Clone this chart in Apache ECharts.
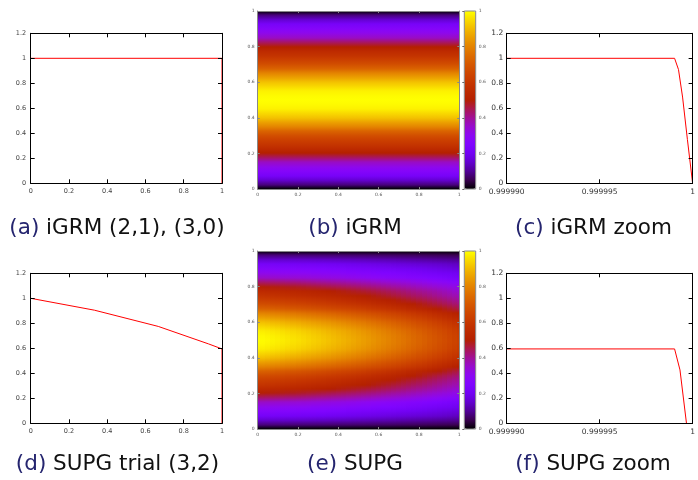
<!DOCTYPE html>
<html>
<head>
<meta charset="utf-8">
<script src="https://cdn.jsdelivr.net/npm/echarts@6/dist/echarts.min.js"></script>
<style>
html, body { margin: 0; padding: 0; background: #fff; }
#main { width: 698px; height: 480px; }
</style>
</head>
<body>
<div id="main"></div>
<script>
// ---- data ----
var igrmX = [0, 1, 1];
var igrmY = [1, 1, 0];

var supgX = [0, 0.333, 0.667, 0.93, 1, 1];
var supgY = [1, 0.905, 0.775, 0.635, 0.595, 0];

var igrmZoomX = [0.99999, 0.99999903, 0.99999924, 0.99999946, 0.99999972, 1];
var igrmZoomY = [1, 1, 0.91, 0.69, 0.35, 0];

var supgZoomX = [0.99999, 0.99999903, 0.99999932, 0.99999967];
var supgZoomY = [0.595, 0.595, 0.427, 0];

var zoomTickLabels = ['0.999990', '0.999995', '1'];

// sample positions of the 2D fields (both x and y)
var fieldPos = [0, 0.025, 0.05, 0.075, 0.1, 0.125, 0.15, 0.175, 0.2, 0.225, 0.25,
    0.275, 0.3, 0.325, 0.35, 0.375, 0.4, 0.425, 0.45, 0.475, 0.5, 0.525, 0.55,
    0.575, 0.6, 0.625, 0.65, 0.675, 0.7, 0.725, 0.75, 0.775, 0.8, 0.825, 0.85,
    0.875, 0.9, 0.925, 0.95, 0.975, 1];

// iGRM field: value along y (same for every x)
var rowProfile = [0.00, 0.08, 0.16, 0.22, 0.27, 0.31, 0.36, 0.43, 0.50, 0.55, 0.59,
    0.63, 0.67, 0.73, 0.80, 0.86, 0.91, 0.95, 0.98, 0.995, 1.00, 0.995, 0.98,
    0.95, 0.91, 0.86, 0.80, 0.73, 0.67, 0.63, 0.59, 0.55, 0.50, 0.43, 0.36,
    0.31, 0.27, 0.22, 0.16, 0.08, 0.00];

// SUPG field: damping of the profile along x
var supgDecay = [1.000, 0.995, 0.990, 0.984, 0.979, 0.973, 0.967, 0.961, 0.955,
    0.948, 0.941, 0.934, 0.927, 0.920, 0.912, 0.904, 0.896, 0.888, 0.879, 0.870,
    0.861, 0.852, 0.842, 0.832, 0.822, 0.812, 0.801, 0.790, 0.779, 0.768, 0.756,
    0.744, 0.732, 0.720, 0.707, 0.694, 0.681, 0.668, 0.654, 0.640, 0.626];

var captionTags = ['(a)', '(b)', '(c)', '(d)', '(e)', '(f)'];
var captionTexts = ['iGRM (2,1), (3,0)', 'iGRM', 'iGRM zoom',
    'SUPG trial (3,2)', 'SUPG', 'SUPG zoom'];

// gnuplot default palette (rgbformulae 7,5,15)
var palette = ['#000000', '#39004f', '#510096', '#6301ce', '#7202f3', '#8004ff',
    '#8c07f3', '#970bce', '#a11096', '#ab174f', '#b42000', '#bd2a00', '#c63700',
    '#ce4600', '#d55700', '#dd6c00', '#e48300', '#eb9d00', '#f2ba00', '#f9db00',
    '#ffff00'];

// ---- build tables ----
function zip(xs, ys) {
    var out = [];
    for (var i = 0; i < xs.length; i++) out.push([xs[i], ys[i]]);
    return out;
}

// each cell: [x, y, value at y, value at next y]
var igrmField = [], supgField = [];
for (var i = 0; i < fieldPos.length; i++) {
    for (var j = 0; j < fieldPos.length - 1; j++) {
        igrmField.push([fieldPos[i], fieldPos[j], rowProfile[j], rowProfile[j + 1]]);
        supgField.push([fieldPos[i], fieldPos[j],
            rowProfile[j] * supgDecay[i], rowProfile[j + 1] * supgDecay[i]]);
    }
}
var CELL = fieldPos[1] - fieldPos[0];

// ---- layout ----
var FONT = 'DejaVu Sans';
var grids = [], xAxes = [], yAxes = [];

function addGrid(left, top, width, height) {
    grids.push({ left: left, top: top, width: width, height: height });
    return grids.length - 1;
}

// gnuplot-like frame: ticks on all four sides
function frameAxes(g, xr, yr, o) {
    var lineCol = o.lineColor, tickLen = o.tickLen;
    var base = {
        gridIndex: g, type: 'value', z: 10,
        axisLine: { onZero: false, lineStyle: { color: lineCol, width: 1 } },
        axisTick: { inside: true, length: tickLen, lineStyle: { color: lineCol } },
        splitLine: { show: false }
    };
    var xb = Object.assign({}, base, {
        position: 'bottom', min: xr[0], max: xr[1], interval: xr[2],
        axisLabel: { fontSize: o.fontSize, color: o.labelColor, margin: o.xMargin, fontFamily: FONT,
            showMaxLabel: true, showMinLabel: true, formatter: o.xFormatter }
    });
    var xt = Object.assign({}, base, {
        position: 'top', min: xr[0], max: xr[1], interval: xr[2], axisLabel: { show: false }
    });
    var yl = Object.assign({}, base, {
        position: 'left', min: yr[0], max: yr[1], interval: yr[2],
        axisLabel: { fontSize: o.fontSize, color: o.labelColor, margin: o.yMargin, fontFamily: FONT }
    });
    var yrt = Object.assign({}, base, {
        position: 'right', min: yr[0], max: yr[1], interval: yr[2], axisLabel: { show: false }
    });
    xAxes.push(xb); var xi = xAxes.length - 1; xAxes.push(xt);
    yAxes.push(yl); var yi = yAxes.length - 1; yAxes.push(yrt);
    return { x: xi, y: yi };
}

var lineOpts = { lineColor: '#000', tickLen: 4, fontSize: 6.5, labelColor: '#444', xMargin: 5, yMargin: 4.5 };
var zoomOpts = { lineColor: '#000', tickLen: 4, fontSize: 7.5, labelColor: '#333', xMargin: 5, yMargin: 3.5,
    xFormatter: function (v, idx) { return zoomTickLabels[idx]; } };
var heatOpts = { lineColor: '#888', tickLen: 2, fontSize: 4.5, labelColor: '#555', xMargin: 3, yMargin: 3 };

var series = [];

function linePanel(left, top, width, xr, opts, xs, ys) {
    var g = addGrid(left, top, width, 150);
    var ax = frameAxes(g, xr, [0, 1.2, 0.2], opts);
    series.push({
        type: 'line', xAxisIndex: ax.x, yAxisIndex: ax.y,
        data: zip(xs, ys), showSymbol: false, symbol: 'none',
        lineStyle: { color: '#ff0000', width: 1 }
    });
}

// one cell spans [x-CELL/2, x+CELL/2] x [y, y+CELL], shaded between its two values;
// snapped to whole pixels so neighbouring cells leave no seams
function renderCell(params, api) {
    var x = api.value(0), y = api.value(1);
    var a = api.coord([x - CELL / 2, y + CELL]);
    var b = api.coord([x + CELL / 2, y]);
    var x0 = Math.round(a[0]), y0 = Math.round(a[1]);
    var x1 = Math.round(b[0]), y1 = Math.round(b[1]);
    return {
        type: 'rect',
        shape: { x: x0, y: y0, width: x1 - x0, height: y1 - y0 },
        style: {
            fill: {
                type: 'linear', x: 0, y: 1, x2: 0, y2: 0,
                colorStops: [
                    { offset: 0, color: echarts.color.lerp(api.value(2), palette) },
                    { offset: 1, color: echarts.color.lerp(api.value(3), palette) }
                ]
            }
        }
    };
}

var visualMaps = [];

function heatPanel(top, field) {
    var g = addGrid(257.7, top, 201.6, 178);
    var ax = frameAxes(g, [0, 1, 0.2], [0, 1, 0.2], heatOpts);
    series.push({
        type: 'custom', xAxisIndex: ax.x, yAxisIndex: ax.y,
        data: field, renderItem: renderCell, clip: true, silent: true
    });
    var si = series.length - 1;
    // colour bar: the visualMap bar itself plus a frame with ticks
    visualMaps.push({
        type: 'continuous', min: 0, max: 1, dimension: 2, seriesIndex: si,
        left: 464.3, top: top, itemWidth: 11.4, itemHeight: 178, padding: 0,
        calculable: false, hoverLink: false, inRange: { color: palette }
    });
    grids.push({ left: 464.3, top: top, width: 11.4, height: 178, show: true, z: 10,
        borderColor: '#888', borderWidth: 1, backgroundColor: 'transparent' });
    var cg = grids.length - 1;
    xAxes.push({ gridIndex: cg, type: 'value', min: 0, max: 1, show: false });
    yAxes.push({ gridIndex: cg, type: 'value', position: 'right', min: 0, max: 1, interval: 0.2, z: 10,
        axisLine: { show: false },
        axisTick: { inside: true, length: 2, lineStyle: { color: '#666' } },
        axisLabel: { fontSize: 4.5, color: '#555', margin: 3, fontFamily: FONT },
        splitLine: { show: false } });
}

linePanel(30.7, 33.3, 191.3, [0, 1, 0.2], lineOpts, igrmX, igrmY);
heatPanel(11, igrmField);
linePanel(506.7, 33.3, 192, [0.99999, 1, 0.000005], zoomOpts, igrmZoomX, igrmZoomY);
linePanel(30.7, 273.3, 191.3, [0, 1, 0.2], lineOpts, supgX, supgY);
heatPanel(251, supgField);
linePanel(506.7, 273.3, 192, [0.99999, 1, 0.000005], zoomOpts, supgZoomX, supgZoomY);

// captions
var capX = [117, 355, 593.5, 117.5, 355, 593];
var capY = [228.5, 228.5, 228.5, 464.5, 464.5, 464.5];
var graphics = [];
for (var k = 0; k < captionTags.length; k++) {
    graphics.push({
        type: 'text', x: capX[k], y: capY[k], silent: true,
        style: {
            text: '{t|' + captionTags[k] + '} ' + captionTexts[k],
            fill: '#111', fontSize: 21.5, fontFamily: FONT,
            align: 'center', verticalAlign: 'middle',
            rich: { t: { fill: '#25256f', fontSize: 21.5, fontFamily: FONT } }
        }
    });
}

var myChart = echarts.init(document.getElementById('main'), null, { renderer: 'canvas' });
myChart.setOption({
    animation: false,
    backgroundColor: '#fff',
    grid: grids,
    xAxis: xAxes,
    yAxis: yAxes,
    visualMap: visualMaps,
    series: series,
    graphic: graphics
});
</script>
</body>
</html>
